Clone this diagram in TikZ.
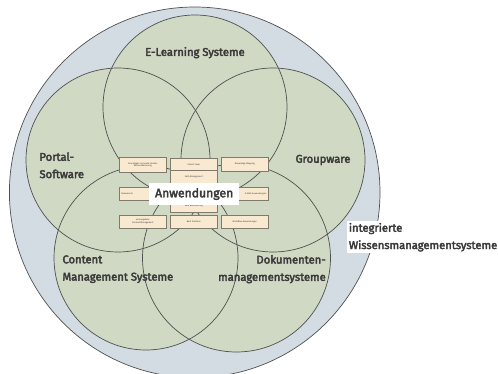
\documentclass[tikz,border=0pt]{standalone}
\usepackage{fontspec}
\setmainfont{Fira Sans}[BoldFont=Fira Sans, BoldFeatures={FakeBold=3.2}]
\definecolor{outerfill}{RGB}{211,219,227}
\definecolor{innerfill}{RGB}{207,217,195}
\definecolor{ringline}{RGB}{80,80,80}
\definecolor{boxfill}{RGB}{248,233,208}
\definecolor{boxline}{RGB}{128,122,108}
\definecolor{labeltext}{RGB}{58,58,58}
\tikzset{
  ringfill/.style={fill=innerfill},
  ringdraw/.style={draw=ringline, line width=0.7pt},
  appbox/.style={draw=boxline, line width=1pt, fill=boxfill, minimum width=47pt, inner sep=0pt, align=center, font=\fontsize{2.2}{2.6}\selectfont, text=labeltext},
  setlabel/.style={font=\bfseries\fontsize{11.2}{17.3}\selectfont, text=labeltext, inner sep=0pt},
}
\begin{document}
\begin{tikzpicture}[x=1pt,y=-1pt]
\useasboundingbox (0,0) rectangle (498,374);
\fill[white] (0,0) rectangle (498,374);
% outer circle
\filldraw[fill=outerfill, draw=ringline, line width=0.7pt] (194.7,192.3) circle[radius=185.3pt];
% inner circle fills
\fill[innerfill] (195,107) circle[radius=92pt];
\fill[innerfill] (118,160) circle[radius=92pt];
\fill[innerfill] (273,160) circle[radius=92pt];
\fill[innerfill] (146,258) circle[radius=92pt];
\fill[innerfill] (236.5,258) circle[radius=94pt];
% inner circle outlines
\draw[ringdraw] (195,107) circle[radius=92pt];
\draw[ringdraw] (118,160) circle[radius=92pt];
\draw[ringdraw] (273,160) circle[radius=92pt];
\draw[ringdraw] (146,258) circle[radius=92pt];
\draw[ringdraw] (236.5,258) circle[radius=94pt];
% application boxes
\node[appbox, minimum height=14.5pt] (a1) at (142.8,165) {Grundlagen Lernende Knoten\\Wissensbasierung};
\node[appbox, minimum height=12pt] (b1) at (193.8,164.2) {Virtual Team};
\node[appbox, minimum height=14pt] (b2) at (193.8,177.1) {Skill-Management};
\node[appbox, minimum height=14.5pt] (b3) at (193.8,191.5) {};
\node[appbox, minimum height=14pt] (b4) at (193.8,206) {Data Warehousing};
\node[appbox, minimum height=13.3pt] (b5) at (193.8,221.7) {Best Practices};
\node[appbox, minimum height=14pt] (c1) at (244.8,164.3) {Knowledge Mapping};
\node[appbox, minimum height=13.4pt, text width=43pt, align=left] (a2) at (142.8,194) {Dokumente};
\node[appbox, minimum height=13.4pt, text width=43pt, align=right] (c2) at (244.8,194) {E-Mail-Anwendungen};
\node[appbox, minimum height=13.3pt] (a3) at (142.8,221.7) {Lernangebote\\Content-Management};
\node[appbox, minimum height=13.3pt] (c3) at (244.8,221.7) {Workflow-Anwendungen};
% central label
\node[fill=white, minimum width=90pt, minimum height=21.4pt, inner sep=0pt, font=\bfseries\fontsize{12.2}{14}\selectfont, text=labeltext] (anw) at (194.2,194) {Anwendungen};
% set labels
\node[setlabel] (elearn) at (195,52.7) {E-Learning Systeme};
\node[setlabel, anchor=west, align=left] (portal) at (39.3,165.3) {Portal-\\Software};
\node[setlabel] (group) at (323,160) {Groupware};
\node[setlabel, anchor=west, align=left] (cms) at (62.3,269.2) {Content\\Management Systeme};
\node[setlabel, anchor=east, align=right] (dms) at (326,269.2) {Dokumenten-\\managementsysteme};
\node[setlabel, anchor=west, align=left, fill=white, inner xsep=2pt, inner ysep=2pt] (iwms) at (346.7,237.2) {integrierte\\Wissensmanagementsysteme};
\end{tikzpicture}
\end{document}
